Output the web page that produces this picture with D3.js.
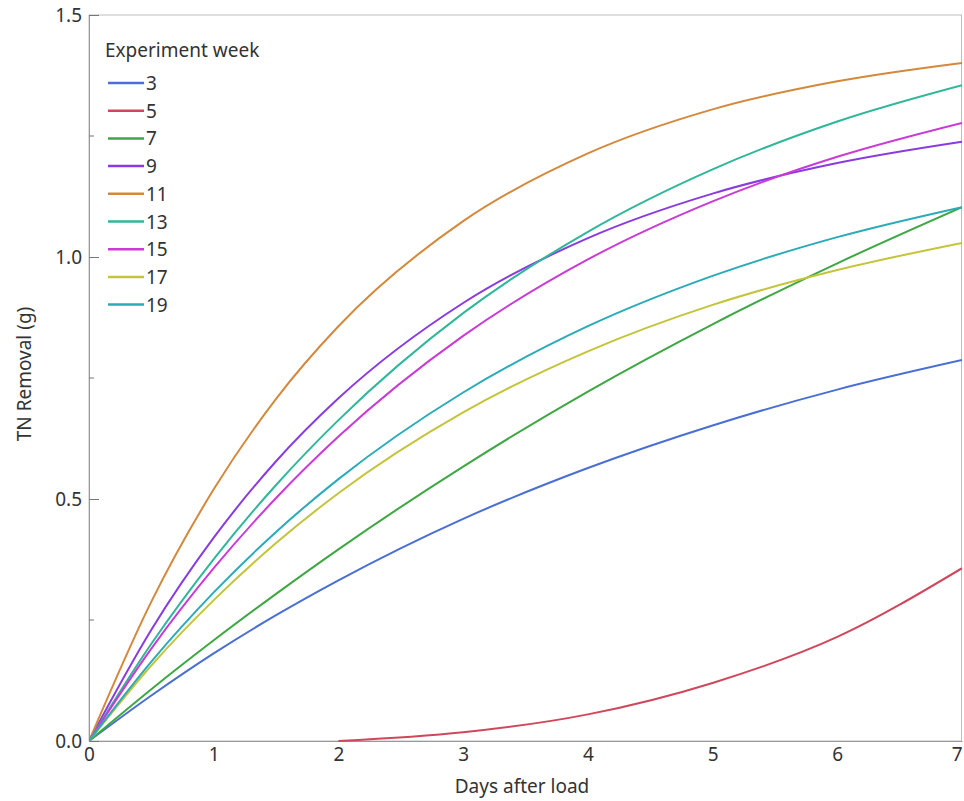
<!DOCTYPE html>
<html>
<head>
<meta charset="utf-8">
<script src="https://cdn.jsdelivr.net/npm/d3@7"></script>
<style>
    body { margin:0; background:#fff; }
    text { font-family:"Noto Sans", "Open Sans", sans-serif; fill:#333; }
</style>
</head>
<body>
<div id="gt" style="width:964px;height:801px;"></div>
<script>
// chart data
var days = [0, 0.5, 1, 1.5, 2, 3, 4, 5, 6, 7];
var weeks = ["3", "5", "7", "9", "11", "13", "15", "17", "19"];
var week3  = [0, 0.094, 0.181, 0.260, 0.332, 0.459, 0.564, 0.652, 0.726, 0.787];
var week5  = [null, null, null, null, 0, 0.018, 0.055, 0.120, 0.215, 0.357];
var week7  = [0, 0.107, 0.208, 0.304, 0.396, 0.567, 0.722, 0.861, 0.987, 1.103];
var week9  = [0, 0.230, 0.420, 0.578, 0.708, 0.905, 1.039, 1.131, 1.194, 1.238];
var week11 = [0, 0.288, 0.520, 0.707, 0.857, 1.074, 1.214, 1.305, 1.363, 1.401];
var week13 = [0, 0.201, 0.376, 0.529, 0.663, 0.884, 1.052, 1.181, 1.280, 1.355];
var week15 = [0, 0.191, 0.357, 0.502, 0.629, 0.837, 0.995, 1.115, 1.207, 1.277];
var week17 = [0, 0.156, 0.291, 0.409, 0.512, 0.679, 0.805, 0.901, 0.973, 1.029];
var week19 = [0, 0.164, 0.307, 0.432, 0.541, 0.720, 0.857, 0.961, 1.041, 1.103];
var colors = ["#4a6fd4", "#d0475c", "#3ea743", "#8a3be0", "#d4883a", "#2fb79a", "#c93ad6", "#c4c43a", "#2aabb8"];
var xTicks = [0, 1, 2, 3, 4, 5, 6, 7];
var yTicks = [0, 0.5, 1.0, 1.5];
var yMinor = [0.25, 0.75, 1.25];

var series = [week3, week5, week7, week9, week11, week13, week15, week17, week19];

var margin = {t:15, l:89, b:60, r:2},
    width = 964 - margin.l - margin.r,
    height = 801 - margin.t - margin.b;

var svg = d3.select("#gt")
    .append('svg')
    .attr('width', width + margin.l + margin.r)
    .attr('height', height + margin.t + margin.b);

var x = d3.scaleLinear().domain([0, 7]).range([0, width]);
var y = d3.scaleLinear().domain([0, 1.5]).range([height, 0]);

var g = svg.append("g")
    .attr("transform", "translate(" + margin.l + "," + margin.t + ")");

svg.append("defs").append("clipPath").attr("id", "clip")
    .append("rect").attr("width", width).attr("height", height + 1);

// frame
g.append("rect")
    .attr("x", 0).attr("y", 0)
    .attr("width", width - 0.5).attr("height", height)
    .attr("fill", "none")
    .attr("stroke", "#bdbdbd")
    .attr("stroke-width", 1);

// x axis: labels only
g.append("g")
    .attr("transform", "translate(0," + height + ")")
    .call(d3.axisBottom(x).tickValues(xTicks).tickFormat(d3.format("d")).tickSize(0).tickPadding(7))
    .call(function(a) {
        a.select(".domain").attr("stroke", "#999");
        a.selectAll("text").style("font-size", "19px").attr("fill", "#333");
        // last label sits on the window edge, keep it inside
        a.selectAll("text").filter(function(d) { return d == 7; })
            .attr("text-anchor", "end").attr("x", 0);
    });

// y axis: ticks point into the plot
g.append("g")
    .call(d3.axisLeft(y).tickValues(yTicks).tickFormat(d3.format(".1f")).tickSize(-10).tickPadding(8))
    .call(function(a) {
        a.select(".domain").attr("stroke", "#999");
        a.selectAll("line").attr("stroke", "#777");
        a.selectAll("text").style("font-size", "19px").attr("fill", "#333").attr("x", -7);
    });

g.append("g")
    .selectAll("line")
    .data(yMinor)
    .enter()
    .append("line")
    .attr("x1", 0).attr("x2", 5)
    .attr("y1", function(d) { return y(d); })
    .attr("y2", function(d) { return y(d); })
    .attr("stroke", "#777");

// axis titles
svg.append("text")
    .attr("x", 522)
    .attr("y", 793)
    .style("font-size", "19px")
    .attr("text-anchor", "middle")
    .text("Days after load");

svg.append("text")
    .attr("transform", "translate(31,374) rotate(-90)")
    .style("font-size", "19px")
    .attr("text-anchor", "middle")
    .text("TN Removal (g)");

// lines
var d3line = d3.line()
    .defined(function(d) { return d.v != null; })
    .x(function(d) { return x(d.day); })
    .y(function(d) { return y(d.v); })
    .curve(d3.curveMonotoneX);

var lines = g.append("g").attr("clip-path", "url(#clip)");

series.forEach(function(vals, i) {
    var pts = days.map(function(d, j) { return {day: d, v: vals[j]}; });
    lines.append('path')
        .attr('d', d3line(pts))
        .attr('stroke', colors[i])
        .attr('stroke-width', 2)
        .attr('fill', 'none');
});

// legend
var leg = svg.append("g").attr("transform", "translate(105,0)");
leg.append("text")
    .attr("x", 0).attr("y", 57)
    .style("font-size", "19px")
    .text("Experiment week");

var rows = leg.selectAll(".row")
    .data(weeks)
    .enter()
    .append("g")
    .attr("class", "row")
    .attr("transform", function(d, i) { return "translate(0," + (83 + i * 27.7) + ")"; });

rows.append("line")
    .attr("x1", 3).attr("x2", 39)
    .attr("stroke", function(d, i) { return colors[i]; })
    .attr("stroke-width", 2.5);

rows.append("text")
    .attr("x", 41).attr("y", 7)
    .style("font-size", "19px")
    .text(function(d) { return d; });
</script>
</body>
</html>
